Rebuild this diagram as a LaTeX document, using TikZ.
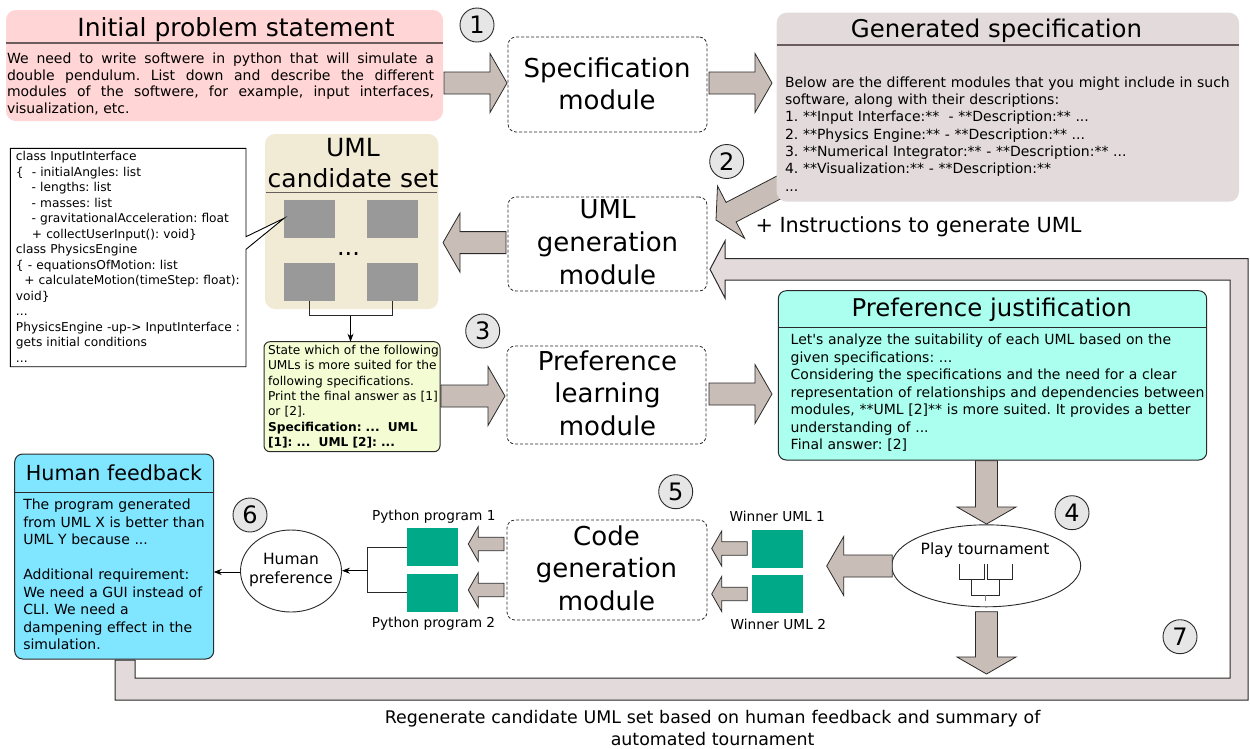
\documentclass[tikz,border=0pt]{standalone}
\usepackage{fontspec}
\setmainfont{DejaVu Sans}[Ligatures=TeXOff]
\usetikzlibrary{arrows.meta,shapes.geometric,calc}
\definecolor{cpink}{HTML}{FFD5D5}
\definecolor{cspec}{HTML}{E3DBDB}
\definecolor{cbeige}{HTML}{F1EBD6}
\definecolor{cyel}{HTML}{F4FCD4}
\definecolor{caqua}{HTML}{AAFFEE}
\definecolor{cblue}{HTML}{80E5FF}
\definecolor{carrow}{HTML}{C8BEB7}
\definecolor{cgreen}{HTML}{00AA88}
\definecolor{csq}{HTML}{999999}
\definecolor{ccirc}{HTML}{E6E6E6}
\definecolor{cline}{HTML}{2A2A2A}
\definecolor{csep}{HTML}{6C5D5D}
\newcommand{\BigArrow}[4]{\begin{scope}[shift={(#1,#2)},rotate=#3]\draw[barrow](0,0)--(-17,29.5)--(-17,11)--(-#4,11)--(-#4,-11)--(-17,-11)--(-17,-29.5)--cycle;\end{scope}}
\newcommand{\SmallArrow}[4]{\begin{scope}[shift={(#1,#2)},rotate=#3]\draw[barrow](0,0)--(-10,17.5)--(-10,6.7)--(-#4,6.7)--(-#4,-6.7)--(-10,-6.7)--(-10,-17.5)--cycle;\end{scope}}
\tikzset{
  barrow/.style={fill=carrow,draw=cline,line width=0.8pt,line join=miter},
  boxnw/.style={anchor=north west,inner sep=0pt,outer sep=0pt,rectangle},
  modbox/.style={boxnw,draw=cline,dash pattern=on 3pt off 2pt,line width=0.8pt,rounded corners=8pt},
  framed/.style={boxnw,draw=cline,line width=1pt,rounded corners=8pt},
  txt/.style={inner sep=0pt,outer sep=0pt,anchor=base west,align=left},
  ctxt/.style={inner sep=0pt,outer sep=0pt,anchor=base,align=center},
  modtxt/.style={ctxt,text width=200pt,font=\fontsize{26}{32.5}\selectfont},
  titletxt/.style={ctxt,font=\fontsize{24.4}{28}\selectfont},
  body/.style={font=\fontsize{14}{17.5}\selectfont},
  numc/.style={circle,draw=cline,fill=ccirc,line width=0.9pt,minimum size=34pt,inner sep=0pt,font=\fontsize{24}{24}\selectfont},
  gbox/.style={boxnw,fill=cgreen},
  sqbox/.style={boxnw,fill=csq,minimum width=51pt,minimum height=37.5pt},
  thinarrow/.style={-{Stealth[length=8pt,width=6pt]},draw=black,line width=0.8pt},
  thinline/.style={draw=cline,line width=0.8pt},
  smalllbl/.style={ctxt,font=\fontsize{13.7}{16}\selectfont}
}
\begin{document}
\frenchspacing
\begin{tikzpicture}[x=1pt,y=-1pt]
\useasboundingbox (0,0) rectangle (1250,748);
\fill[white] (0,0) rectangle (1250,748);

% feedback loop band
\draw[fill=cspec,draw=cline,line width=1pt,line join=miter]
  (115,660) -- (135,660) -- (135,678) -- (1230,678) -- (1230,280) -- (725,280)
  -- (725,298) -- (710,269.3) -- (725,241) -- (725,258.5) -- (1248,258.5)
  -- (1248,700) -- (115,700) -- cycle;

% diagonal arrow (behind generated specification)
\BigArrow{716}{220}{207.4}{80}

% boxes
\node[boxnw,fill=cpink,rounded corners=10pt,minimum width=437pt,minimum height=111pt] (ips) at (6,10) {};
\draw[csep,line width=1.2pt] (ips.west |- 0,43) -- (ips.east |- 0,43);
\node[boxnw,fill=cspec,rounded corners=10pt,minimum width=462.3pt,minimum height=189pt] (gs) at (776.7,12.7) {};
\draw[csep,line width=1.2pt] (gs.west |- 0,45) -- (gs.east |- 0,45);
\node[boxnw,fill=cbeige,rounded corners=10pt,minimum width=173.3pt,minimum height=175pt] (uc) at (265,134) {};
\draw[csep,line width=1.2pt] (266,192.3) -- (437.3,192.3);

\node[modbox,minimum width=199pt,minimum height=95pt] (sm) at (508,37) {};
\node[modbox,minimum width=199pt,minimum height=94pt] (ug) at (508,197) {};
\node[modbox,minimum width=199pt,minimum height=98pt] (pl) at (507,346) {};
\node[modbox,minimum width=200pt,minimum height=100pt] (cg) at (507,520) {};

\node[framed,fill=cyel,rounded corners=6pt,minimum width=176pt,minimum height=110pt] (prompt) at (264,341.7) {};
\node[framed,fill=caqua,minimum width=428.4pt,minimum height=169.3pt] (pj) at (778.3,290.7) {};
\draw[cline,line width=1pt] (pj.west |- 0,327.3) -- (pj.east |- 0,327.3);
\node[framed,fill=cblue,minimum width=199pt,minimum height=205pt] (hf) at (14.7,454) {};
\draw[cline,line width=1pt] (hf.west |- 0,492.3) -- (hf.east |- 0,492.3);

% gray squares
\node[sqbox] (sq1) at (284,200) {};
\node[sqbox] (sq2) at (366.7,200) {};
\node[sqbox] (sq3) at (284,263.3) {};
\node[sqbox] (sq4) at (366.7,263.3) {};
\node[ctxt,font=\fontsize{24}{24}\selectfont] (dots) at (348.5,255) {...};

% code callout
\draw[fill=white,draw=black,line width=0.9pt,line join=miter] (10.3,148.3) -- (246,148.3) -- (246,236.7) -- (284,218.3) -- (246,249.3) -- (246,366.7) -- (10.3,366.7) -- cycle;
\node[txt,text width=232pt,font=\fontsize{12.2}{15.5}\selectfont] (code) at (16,160.5) {class InputInterface\\
\{\ \ - initialAngles: list\\
\hspace*{15.7pt}- lengths: list\\
\hspace*{15.7pt}- masses: list\\
\hspace*{15.7pt}- gravitationalAcceleration: float\\
\hspace*{16pt}+ collectUserInput(): void\}\\
class PhysicsEngine\\
\{ - equationsOfMotion: list\\
\hspace*{8.3pt}+ calculateMotion(timeStep: float):\\
void\}\\
...\\
PhysicsEngine -up-> InputInterface :\\
gets initial conditions\\
...};

% green boxes
\node[gbox,minimum width=51pt,minimum height=37.4pt] (py1) at (406.7,528.3) {};
\node[gbox,minimum width=51pt,minimum height=37.7pt] (py2) at (406.7,574) {};
\node[gbox,minimum width=50.4pt,minimum height=37.7pt] (wu1) at (752.3,530) {};
\node[gbox,minimum width=50.4pt,minimum height=37.7pt] (wu2) at (752.3,575) {};

% ellipses
\node[ellipse,draw=cline,fill=white,line width=0.9pt,minimum width=101pt,minimum height=82pt,inner sep=0pt] (hp) at (291,571) {};
\node[ellipse,draw=cline,fill=white,line width=0.9pt,minimum width=189pt,minimum height=82pt,inner sep=0pt] (tour) at (986.2,565.8) {};

% block arrows
\BigArrow{507}{83}{0}{63}
\BigArrow{772}{83}{0}{63}
\BigArrow{443}{242.6}{180}{63}
\BigArrow{505}{396}{0}{64}
\BigArrow{772}{394}{0}{63}
\BigArrow{986.5}{524}{-90}{63.3}
\BigArrow{986.5}{674}{-90}{62.3}
\BigArrow{826.7}{566}{180}{65.5}
\SmallArrow{711.7}{548.5}{180}{35.6}
\SmallArrow{711.7}{594}{180}{35.6}
\SmallArrow{468.3}{544}{180}{35.7}
\SmallArrow{468.3}{590}{180}{35.7}

% numbers
\node[numc] (n1) at (477,25) {1};
\node[numc] (n2) at (726.7,161.5) {2};
\node[numc] (n3) at (482.7,331) {3};
\node[numc] (n4) at (1072,512.7) {4};
\node[numc] (n5) at (675.7,491.7) {5};
\node[numc] (n6) at (250,515) {6};
\node[numc] (n7) at (1180,636.7) {7};

% titles
\node[ctxt,font=\fontsize{25}{28}\selectfont] (ipst) at (236,36) {Initial problem statement};
\node[titletxt] (gst) at (996.5,37.3) {Generated specification};
\node[titletxt] (pjt) at (991.7,316) {Preference justification};
\node[ctxt,font=\fontsize{20.7}{24}\selectfont] (hft) at (114,480) {Human feedback};
\node[ctxt,text width=175pt,font=\fontsize{25}{30.7}\selectfont] (uct) at (353,156.7) {UML\\candidate set};

% module texts
\node[modtxt,font=\fontsize{26}{32}\selectfont] (smt) at (607,77.3) {Specification\\module};
\node[modtxt,font=\fontsize{26}{33}\selectfont] (ugt) at (607.5,218.3) {UML\\generation\\module};
\node[modtxt,font=\fontsize{26}{32.2}\selectfont] (plt) at (607.5,370.7) {Preference\\learning\\module};
\node[modtxt,font=\fontsize{26}{32.5}\selectfont] (cgt) at (606.5,545) {Code\\generation\\module};

% body texts
\node[txt,text width=427pt,align=justify,font=\fontsize{14}{16.8}\selectfont] (ipsb) at (7,63.3) {We need to write softwere in python that will simulate a\linebreak double pendulum. List down and describe the different\linebreak modules of the softwere, for example, input interfaces,\linebreak visualization, etc.};
\node[txt,text width=455pt,font=\fontsize{14}{17.3}\selectfont] (gsb) at (785,87.2) {Below are the different modules that you might include in such\\
software, along with their descriptions:\\
1. **Input Interface:**\ \ - **Description:** ...\\
2. **Physics Engine:** - **Description:** ...\\
3. **Numerical Integrator:** - **Description:** ...\\
4. **Visualization:** - **Description:**\\
...};
\node[txt,text width=425pt,body] (pjb) at (790.7,344.5) {Let's analyze the suitability of each UML based on the\\
given specifications: ...\\
Considering the specifications and the need for a clear\\
representation of relationships and dependencies between\\
modules, **UML [2]** is more suited. It provides a better\\
understanding of ...\\
Final answer: [2]};
\node[txt,text width=195pt,body] (hfb) at (23.3,509.5) {The program generated\\
from UML X is better than\\
UML Y because ...\\
\mbox{}\\
Additional requirement:\\
We need a GUI instead of\\
CLI. We need a\\
dampening effect in the\\
simulation.};
\node[txt,text width=175pt,font=\fontsize{12.2}{15.33}\selectfont] (promptt) at (268,354.5) {State which of the following\\
UMLs is more suited for the\\
following specifications.\\
Print the final answer as [1]\\
or [2].\\
\textbf{Specification: ...\ \ UML}\\
\textbf{[1]: ...\ \ UML [2]: ...}};

% labels
\node[ctxt,font=\fontsize{20.8}{24}\selectfont] (instr) at (918.5,232.3) {+ Instructions to generate UML};
\node[smalllbl] (py1l) at (433.8,520) {Python program 1};
\node[smalllbl] (py2l) at (433.5,627) {Python program 2};
\node[smalllbl] (wu1l) at (777.2,521.5) {Winner UML 1};
\node[smalllbl] (wu2l) at (778.3,629) {Winner UML 2};
\node[ctxt,font=\fontsize{15.5}{18}\selectfont] (tourt) at (985,554.5) {Play tournament};
\node[ctxt,text width=100pt,font=\fontsize{15.5}{19}\selectfont] (hpt) at (291,564.5) {Human\\preference};
\node[ctxt,text width=700pt,font=\fontsize{17.4}{21.5}\selectfont] (regen) at (712.6,723.5) {Regenerate candidate UML set based on human feedback and summary of\\automated tournament};

% tournament bracket
\draw[thinline] (959,564) -- (959,579) -- (984,579) -- (984,564);
\draw[thinline] (987,564) -- (987,579) -- (1012,579) -- (1012,564);
\draw[thinline] (971.5,579) -- (971.5,595) -- (999.5,595) -- (999.5,579);
\draw[draw=gray,line width=0.8pt] (985.5,595) -- (985.5,601);

% thin connectors
\coordinate (cbr) at (350.5,315.7);
\draw[thinline] (sq3.south) |- (cbr) -| (sq4.south);
\draw[thinarrow] (cbr) -- (cbr |- prompt.north);
\coordinate (pbr) at (367.7,570.7);
\draw[thinline] (py1.west) -| (pbr) |- (py2.west);
\draw[thinarrow] (pbr) -- (pbr -| hp.east);
\draw[thinarrow] (hp.west |- 0,572) -- (hf.east |- 0,572);
\end{tikzpicture}
\end{document}
